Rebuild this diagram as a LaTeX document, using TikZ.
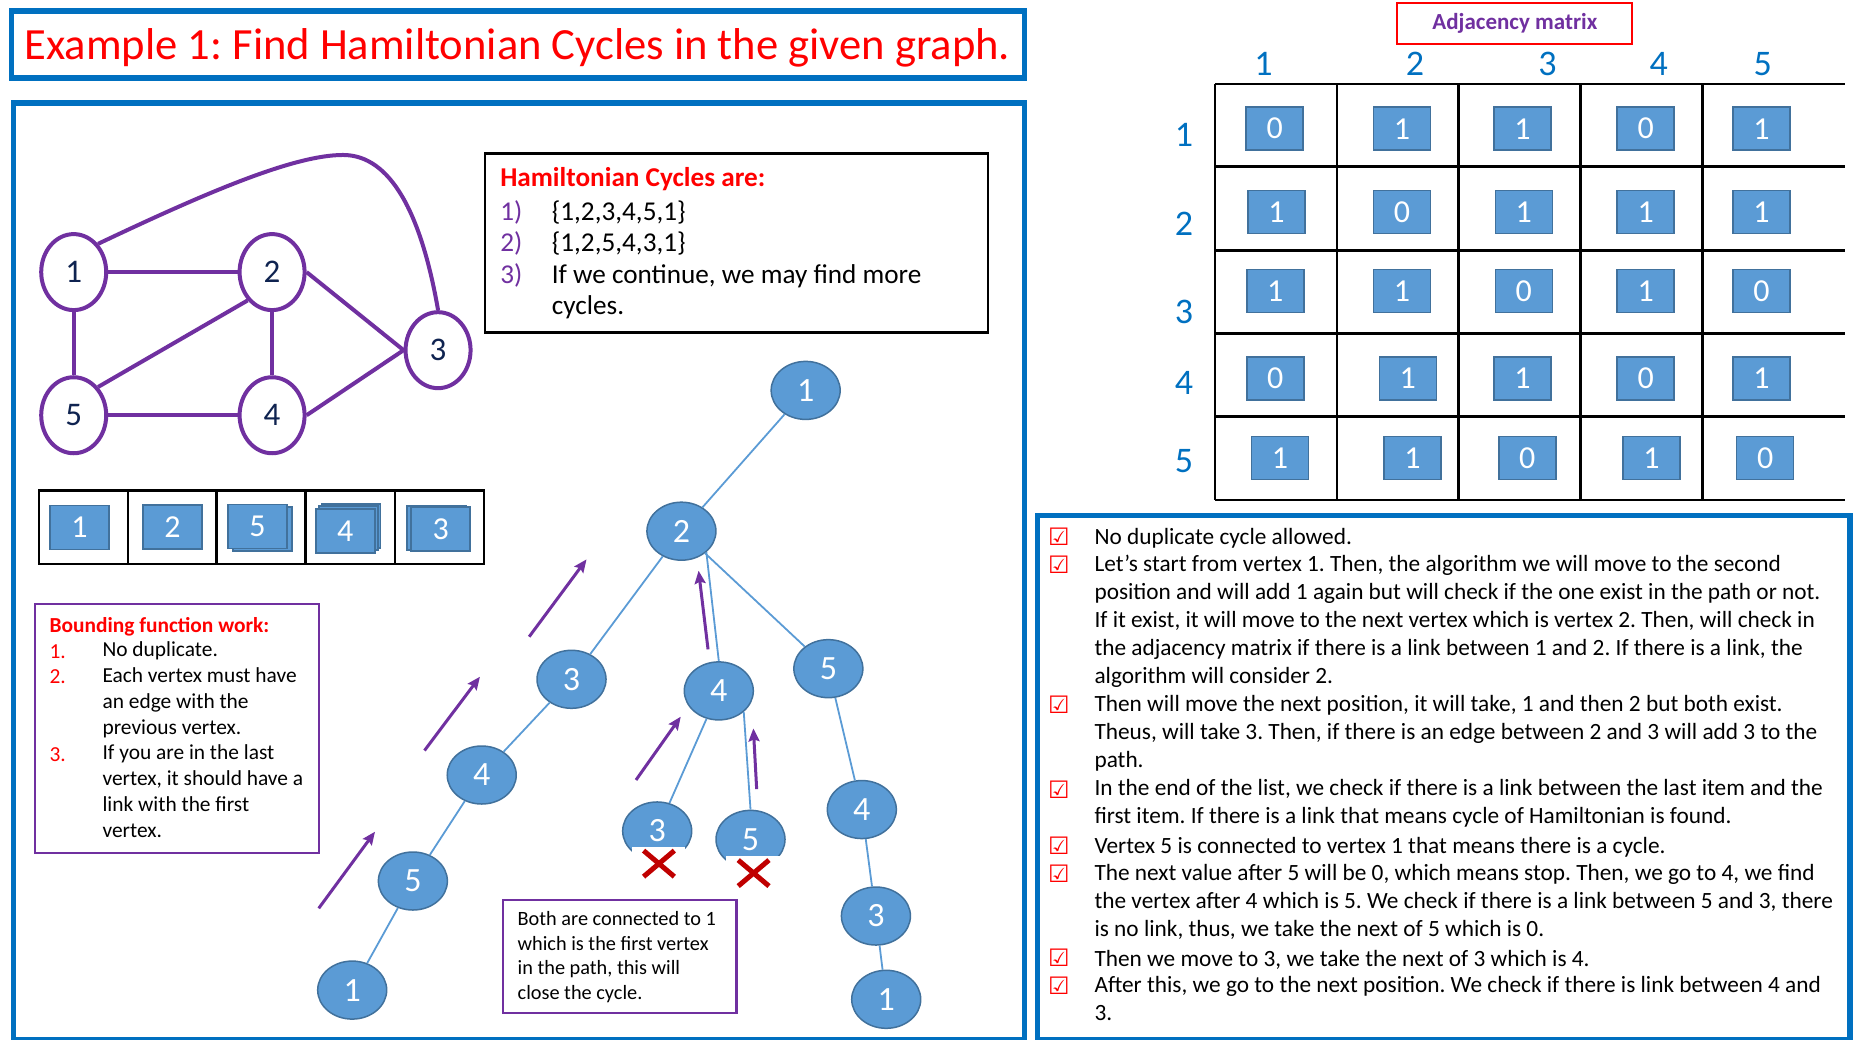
\documentclass[tikz,border=0pt]{standalone}
\usepackage{fontspec}
\setmainfont{Carlito}
\newfontfamily\symbolfont{DejaVu Sans}
\usepackage{tikz}
\usetikzlibrary{shapes.geometric,arrows.meta,positioning,calc}
\frenchspacing

\definecolor{panelblue}{HTML}{0070C0}
\definecolor{nodeblue}{HTML}{5B9BD5}
\definecolor{nodeedge}{HTML}{41719C}
\definecolor{vpurple}{HTML}{7030A0}
\definecolor{crossred}{HTML}{C00000}
\definecolor{navy}{HTML}{0F2350}

\begin{document}
\begin{tikzpicture}[x=1.183pt,y=-1.183pt,
    panel/.style={draw=panelblue,line width=5.5pt},
    txt/.style={inner sep=0pt,anchor=west,align=left,
        execute at begin node=\strut,execute at end node=\strut},
    gvertex/.style={ellipse,draw=vpurple,line width=4pt,fill=white,
        minimum width=65pt,minimum height=76pt,inner sep=0pt,text=navy,
        font=\fontsize{33}{39}\selectfont},
    gedge/.style={draw=vpurple,line width=4pt},
    tvertex/.style={ellipse,draw=nodeedge,fill=nodeblue,line width=1.5pt,
        minimum width=69pt,minimum height=58pt,inner sep=0pt,text=white,
        font=\fontsize{34}{40}\selectfont},
    tedge/.style={draw=nodeblue,line width=1.8pt},
    cell/.style={rectangle,draw=nodeedge,fill=nodeblue,line width=1.5pt,
        minimum width=57pt,minimum height=43pt,inner sep=0pt,text=white,
        font=\fontsize{32}{38}\selectfont},
    slot/.style={cell,minimum width=59pt,minimum height=44pt},
    climb/.style={draw=vpurple,line width=3pt,
        -{Stealth[length=13pt,width=11pt,inset=2pt]}},
    crossmark/.style={draw=crossred,line width=5pt},
    hdr/.style={text=panelblue,font=\fontsize{36}{43}\selectfont,inner sep=0pt},
    ballot/.style={text=red,font=\symbolfont\fontsize{24}{28}\selectfont,inner sep=0pt},
    textbox/.style={draw,line width=2.5pt,inner sep=0pt},
]
\useasboundingbox (0,0) rectangle (1568,879);

% title
\node[draw=panelblue,line width=5.5pt,minimum width=1013pt,minimum height=67pt] (titlebox) at (438,37.75) {};
\node[txt,anchor=center,text=red,font=\fontsize{44.6}{54}\selectfont] (title) at (437.5,41) {Example 1: Find Hamiltonian Cycles in the given graph.};

% panels
\draw[panel] (11.3,87) rectangle (866,878.5);
\draw[panel] (876.8,435.8) rectangle (1563.6,878.5);

% graph
\node[gvertex] (g1) at (62.3,230) {1};
\node[gvertex] (g2) at (230,230) {2};
\node[gvertex] (g3) at (370.3,296) {3};
\node[gvertex] (g5) at (62.3,351) {5};
\node[gvertex] (g4) at (230,351) {4};
\draw[gedge] (g1) -- (g2);
\draw[gedge] (g1) -- (g5);
\draw[gedge] (g2) -- (g4);
\draw[gedge] (g5) -- (g4);
\draw[gedge] (g2.south west) -- (g5.north east);
\draw[gedge] (g2.east) -- (g3.west);
\draw[gedge] (g4.east) -- (g3.west);
\draw[gedge] (g1.north east) .. controls (180,160) and (250,131) .. (290,131)
    .. controls (330,131) and (356,180) .. (g3.north);

% hamiltonian cycles
\node[textbox,minimum width=503pt,minimum height=179pt] (hambox) at (622.7,205.4) {};
\node[txt,text=red,font=\fontsize{27.2}{31.5}\selectfont\bfseries] (hamhead) at (422.7,152.7) {Hamiltonian Cycles are:};
\node[txt,text=vpurple,font=\fontsize{27.2}{31.5}\selectfont] (hamnum) at (422.7,208.4) {1)\\2)\\3)};
\node[txt,font=\fontsize{27.2}{31.5}\selectfont] (hamlist) at (466.3,221.9)
    {\{1,2,3,4,5,1\}\\\{1,2,5,4,3,1\}\\If we continue, we may find more\\cycles.};

% path array
\draw[line width=2.5pt] (33,414.8) rectangle (409,476.8);
\foreach \x in {108,183.2,258.4,333.9}
    \draw[line width=2.5pt] (\x,414.8) -- (\x,476.8);
\node[slot] (s1) at (67.2,445.9) {1};
\node[slot] (s2) at (145.7,445.6) {2};
\node[slot] (s5back) at (222,447) {};
\node[slot] (s5) at (217.7,445.2) {5};
\node[slot] (s4back) at (296.5,444.5) {};
\node[slot] (s4mid) at (294.4,446.5) {};
\node[slot] (s4) at (291.9,448.7) {4};
\node[slot] (s3back) at (369,446.5) {};
\node[slot] (s3) at (372.5,447.3) {3};

% bounding function
\node[textbox,draw=vpurple,minimum width=284pt,minimum height=249pt] (boundbox) at (149.7,615.7) {};
\node[txt,text=red,font=\fontsize{21.4}{25.8}\selectfont\bfseries] (boundhead) at (41.7,530) {Bounding function work:};
\node[txt,text=red,font=\fontsize{21.4}{25.8}\selectfont] (bn1) at (41.7,552) {1.};
\node[txt,text=red,font=\fontsize{21.4}{25.8}\selectfont] (bn2) at (41.7,573.7) {2.};
\node[txt,text=red,font=\fontsize{21.4}{25.8}\selectfont] (bn3) at (41.7,639.1) {3.};
\node[txt,font=\fontsize{21.4}{25.8}\selectfont] (boundtext) at (86.5,628.4)
    {No duplicate.\\Each vertex must have\\an edge with the\\previous vertex.\\If you are in the last\\vertex, it should have a\\link with the first\\vertex.};

% state space tree
\node[tvertex] (t1) at (681,330) {1};
\node[tvertex] (t2) at (576,449) {2};
\node[tvertex] (t3) at (483.1,574.2) {3};
\node[tvertex] (t4) at (607.6,584) {4};
\node[tvertex] (t5) at (700.2,565.2) {5};
\node[tvertex] (u4) at (407.2,655.1) {4};
\node[tvertex] (u5) at (349,744.7) {5};
\node[tvertex] (u1) at (297.7,836.9) {1};
\node[tvertex] (m3) at (555.5,702.4) {3};
\node[tvertex] (m5) at (634.4,709.5) {5};
\node[tvertex] (r4) at (728.5,684.3) {4};
\node[tvertex] (r3) at (740.4,774.3) {3};
\node[tvertex] (r1) at (749.1,844.7) {1};
\draw[tedge] (t1) -- (t2);
\draw[tedge] (t2) -- (t3);
\draw[tedge] (t2.south east) -- (t4.north);
\draw[tedge] (t2) -- (t5);
\draw[tedge] (t3) -- (u4);
\draw[tedge] (u4) -- (u5);
\draw[tedge] (u5) -- (u1);
\draw[tedge] (t4) -- (m3);
\draw[tedge] (t4.south east) -- (m5.north);
\draw[tedge] (t5) -- (r4);
\draw[tedge] (r4) -- (r3);
\draw[tedge] (r3) -- (r1);

% rejected leaves
\fill[white] (534,715.7) rectangle (579,748);
\fill[white] (614,723.6) rectangle (659,756);
\coordinate (x3) at (557,730);
\coordinate (x5) at (637,738);
\draw[crossmark] ($(x3)+(-13,-11)$) -- ($(x3)+(13,11)$);
\draw[crossmark] ($(x3)+(-13,11)$) -- ($(x3)+(13,-11)$);
\draw[crossmark] ($(x5)+(-13,-11)$) -- ($(x5)+(13,11)$);
\draw[crossmark] ($(x5)+(-13,11)$) -- ($(x5)+(13,-11)$);

% backtracking arrows
\coordinate (a1s) at (447.3,538.2); \coordinate (a1e) at (495.8,472.8);
\coordinate (a2s) at (358.8,634.4); \coordinate (a2e) at (405.7,572);
\coordinate (a3s) at (269.4,767.8); \coordinate (a3e) at (317,703);
\coordinate (a4s) at (598.5,548.9); \coordinate (a4e) at (590.5,482.4);
\coordinate (a5s) at (537.6,659.3); \coordinate (a5e) at (575.4,605.8);
\coordinate (a6s) at (639.6,667);   \coordinate (a6e) at (636.8,615.7);
\foreach \a in {a1,a2,a3,a4,a5,a6}
    \draw[climb] (\a s) -- (\a e);

% note
\node[textbox,draw=vpurple,minimum width=233.5pt,minimum height=113pt] (notebox) at (524,808.7) {};
\node[txt,font=\fontsize{20.3}{24.8}\selectfont] (note) at (437.4,810.8)
    {Both are connected to 1\\which is the first vertex\\in the path, this will\\close the cycle.};

% adjacency matrix
\node[draw=red,line width=2pt,minimum width=235pt,minimum height=41pt,
    text=vpurple,font=\fontsize{23}{28}\selectfont\bfseries] (adjlabel) at (1280.5,19.5) {Adjacency matrix};
\foreach \c/\x in {1/1068,2/1196,3/1308,4/1402,5/1490}
    \node[hdr] (col\c) at (\x,54) {\c};
\foreach \r/\y in {1/114,2/189,3/264,4/324,5/390}
    \node[hdr] (row\r) at (1000.9,\y) {\r};
\foreach \y in {71,140.9,211.9,281.8,352.2,422.7}
    \draw[line width=2.5pt] (1027,\y) -- (1559.4,\y);
\foreach \x in {1027,1130,1233,1336,1439}
    \draw[line width=2.5pt] (\x,71) -- (\x,422.7);
\foreach \r/\y/\row in {
    1/108.8/{1077.5/0,1185/1,1287/1,1391/0,1489/1},
    2/179/{1079/1,1185/0,1288/1,1391/1,1489/1},
    3/246/{1078/1,1185/1,1288/0,1391/1,1489/0},
    4/320/{1078/0,1190/1,1287/1,1391/0,1489/1},
    5/387/{1082/1,1194/1,1291/0,1396/1,1492/0}}
    \foreach \x/\v [count=\c] in \row
        \node[cell] (m\r\c) at (\x,\y) {\v};

% explanation
\foreach \n/\y in {1/453.7,2/477.4,3/596.1,4/667.4,5/714.8,6/738.6,7/809.8,8/833.5}
    \node[ballot] (box\n) at (895,\y) {☑};
\node[txt,font=\fontsize{23.3}{28.08}\selectfont] (item1) at (925,455.7)
    {No duplicate cycle allowed.};
\node[txt,font=\fontsize{23.3}{28.08}\selectfont] (item2) at (925,526.9)
    {Let’s start from vertex 1. Then, the algorithm we will move to the second\\
     position and will add 1 again but will check if the one exist in the path or not.\\
     If it exist, it will move to the next vertex which is vertex 2. Then, will check in\\
     the adjacency matrix if there is a link between 1 and 2. If there is a link, the\\
     algorithm will consider 2.};
\node[txt,font=\fontsize{23.3}{28.08}\selectfont] (item3) at (925,621.9)
    {Then will move the next position, it will take, 1 and then 2 but both exist.\\
     Theus, will take 3. Then, if there is an edge between 2 and 3 will add 3 to the\\
     path.};
\node[txt,font=\fontsize{23.3}{28.08}\selectfont] (item4) at (925,681.2)
    {In the end of the list, we check if there is a link between the last item and the\\
     first item. If there is a link that means cycle of Hamiltonian is found.};
\node[txt,font=\fontsize{23.3}{28.08}\selectfont] (item5) at (925,716.8)
    {Vertex 5 is connected to vertex 1 that means there is a cycle.};
\node[txt,font=\fontsize{23.3}{28.08}\selectfont] (item6) at (925,764.3)
    {The next value after 5 will be 0, which means stop. Then, we go to 4, we find\\
     the vertex after 4 which is 5. We check if there is a link between 5 and 3, there\\
     is no link, thus, we take the next of 5 which is 0.};
\node[txt,font=\fontsize{23.3}{28.08}\selectfont] (item7) at (925,811.8)
    {Then we move to 3, we take the next of 3 which is 4.};
\node[txt,font=\fontsize{23.3}{28.08}\selectfont] (item8) at (925,847.4)
    {After this, we go to the next position. We check if there is link between 4 and\\
     3.};
\end{tikzpicture}
\end{document}
